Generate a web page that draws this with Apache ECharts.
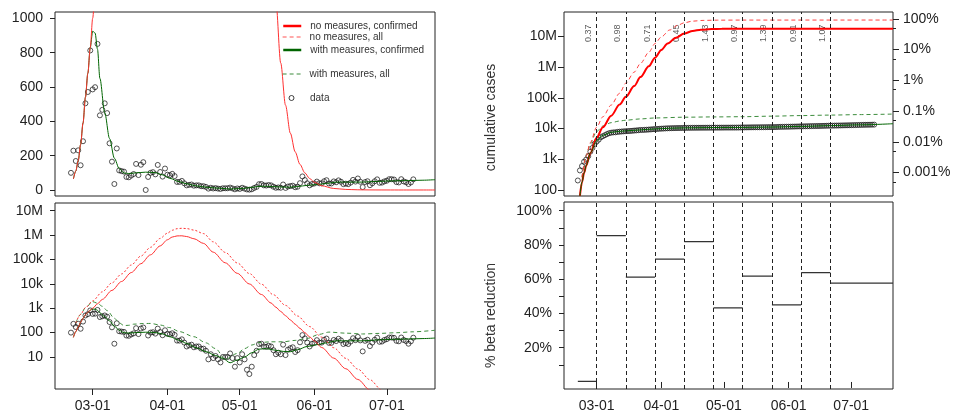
<!DOCTYPE html>
<html>
<head>
<meta charset="utf-8">
<script src="https://cdn.jsdelivr.net/npm/echarts@6.0.0/dist/echarts.min.js"></script>
<style>
html, body { margin: 0; padding: 0; background: #fff; }
#chart { width: 953px; height: 419px; }
</style>
</head>
<body>
<div id="chart"></div>
<script>
// ---- data ----
var dailyStart = [2020, 2, 21];
// daily new confirmed cases from Feb 21
var dailyCases = [
    100, 229, 169, 231, 144, 284, 505, 571, 813,
    586, 599, 851, 435, 467, 505, 448, 272, 165, 35, 242, 114, 110, 107, 76, 74, 84, 93, 152, 87, 147, 162, 0, 76, 100, 104, 91, 146, 105, 78, 125,
    89, 86, 94, 81, 47, 47, 53, 39, 27, 30, 32, 25, 27, 27, 22, 22, 18, 8, 13, 9, 11, 8, 6, 10, 10, 10, 14, 9, 4, 9,
    6, 13, 8, 3, 2, 4, 12, 18, 34, 35, 27, 26, 29, 27, 19, 13, 15, 13, 32, 12, 20, 23, 25, 16, 19, 40, 79, 58, 39, 27, 35,
    38, 49, 39, 39, 51, 57, 38, 38, 50, 45, 56, 48, 34, 37, 34, 43, 59, 49, 67, 48, 17, 46, 51, 28, 39, 51, 62, 42, 43, 50,
    54, 63, 63, 61, 46, 44, 63, 50, 45, 35, 44, 62
];
var casesBefore = 104;

// model, daily new cases
var noMeasConfirmed = [
    ['2020-02-22', 64], ['2020-02-23', 110], ['2020-02-24', 170], ['2020-02-25', 265], ['2020-02-26', 390],
    ['2020-02-27', 540], ['2020-02-28', 680], ['2020-02-29', 830], ['2020-03-01', 1000], ['2020-03-03', 1520],
    ['2020-03-05', 2300], ['2020-03-09', 5400], ['2020-03-13', 12500], ['2020-03-17', 29000], ['2020-03-21', 67000],
    ['2020-03-25', 155000], ['2020-03-29', 360000], ['2020-04-01', 640000], ['2020-04-03', 830000], ['2020-04-05', 925000],
    ['2020-04-07', 935000], ['2020-04-09', 870000], ['2020-04-12', 710000], ['2020-04-16', 455000], ['2020-04-20', 200000],
    ['2020-04-25', 73000], ['2020-04-30', 27000], ['2020-05-05', 9900], ['2020-05-10', 3660], ['2020-05-14', 1640],
    ['2020-05-16', 1100], ['2020-05-18', 740], ['2020-05-20', 494], ['2020-05-22', 331], ['2020-05-24', 222],
    ['2020-05-26', 149], ['2020-05-28', 100], ['2020-05-30', 67], ['2020-06-01', 45], ['2020-06-04', 24.5],
    ['2020-06-09', 9.0], ['2020-06-14', 3.3], ['2020-06-19', 1.2], ['2020-06-24', 0.44], ['2020-06-29', 0.16],
    ['2020-07-06', 0.04], ['2020-07-21', 0.002]
];
var noMeasAll = [
    ['2020-02-23', 250], ['2020-02-25', 560], ['2020-02-27', 1050], ['2020-03-01', 2000], ['2020-03-05', 4700],
    ['2020-03-09', 11000], ['2020-03-13', 25500], ['2020-03-17', 59000], ['2020-03-21', 138000], ['2020-03-25', 315000],
    ['2020-03-29', 730000], ['2020-04-01', 1200000], ['2020-04-03', 1580000], ['2020-04-05', 1830000], ['2020-04-07', 1900000],
    ['2020-04-09', 1850000], ['2020-04-12', 1600000], ['2020-04-16', 1150000], ['2020-04-20', 530000], ['2020-04-25', 195000],
    ['2020-04-30', 72000], ['2020-05-05', 26500], ['2020-05-10', 9700], ['2020-05-15', 3560], ['2020-05-20', 1310],
    ['2020-05-25', 480], ['2020-05-30', 177], ['2020-06-04', 65], ['2020-06-09', 24], ['2020-06-14', 8.8],
    ['2020-06-19', 3.2], ['2020-06-24', 1.17], ['2020-06-29', 0.43], ['2020-07-04', 0.16], ['2020-07-21', 0.005]
];
var withMeasConfirmed = [
    ['2020-02-22', 64], ['2020-02-23', 110], ['2020-02-24', 170], ['2020-02-25', 265], ['2020-02-26', 390],
    ['2020-02-27', 540], ['2020-02-28', 680], ['2020-02-29', 830], ['2020-03-01', 925], ['2020-03-02', 915],
    ['2020-03-03', 820], ['2020-03-04', 650], ['2020-03-06', 450], ['2020-03-08', 300], ['2020-03-10', 185],
    ['2020-03-12', 125], ['2020-03-14', 99], ['2020-03-16', 96], ['2020-03-19', 100], ['2020-03-23', 104],
    ['2020-03-27', 101], ['2020-03-30', 88], ['2020-04-02', 68], ['2020-04-06', 48], ['2020-04-09', 36],
    ['2020-04-13', 24], ['2020-04-17', 16.5], ['2020-04-21', 11.5], ['2020-04-24', 8.8], ['2020-04-27', 5.8],
    ['2020-04-30', 7.5], ['2020-05-03', 10], ['2020-05-06', 15], ['2020-05-09', 21], ['2020-05-12', 22],
    ['2020-05-15', 19.5], ['2020-05-19', 17], ['2020-05-22', 16.5], ['2020-05-25', 20], ['2020-05-29', 27],
    ['2020-06-02', 32], ['2020-06-06', 38], ['2020-06-10', 46], ['2020-06-15', 46], ['2020-06-21', 46],
    ['2020-06-27', 50], ['2020-07-03', 53], ['2020-07-10', 55], ['2020-07-16', 57], ['2020-07-21', 60]
];
var withMeasAll = [
    ['2020-02-23', 250], ['2020-02-25', 560], ['2020-02-27', 1050], ['2020-03-01', 1860], ['2020-03-03', 1600],
    ['2020-03-05', 1200], ['2020-03-07', 800], ['2020-03-10', 390], ['2020-03-12', 250], ['2020-03-14', 195],
    ['2020-03-16', 200], ['2020-03-18', 222], ['2020-03-22', 236], ['2020-03-25', 238], ['2020-03-29', 205],
    ['2020-04-02', 160], ['2020-04-06', 110], ['2020-04-12', 68], ['2020-04-17', 38], ['2020-04-21', 22],
    ['2020-04-25', 8], ['2020-04-30', 14], ['2020-05-03', 22], ['2020-05-06', 31], ['2020-05-09', 39],
    ['2020-05-14', 42], ['2020-05-19', 42], ['2020-05-24', 48], ['2020-05-29', 58], ['2020-06-03', 85],
    ['2020-06-07', 105], ['2020-06-14', 95], ['2020-06-21', 88], ['2020-06-28', 93], ['2020-07-05', 99],
    ['2020-07-12', 108], ['2020-07-21', 125]
];

// model, cumulative cases
var cumNoMeasConfirmed = [
    ['2020-02-22', 64], ['2020-02-23', 180], ['2020-02-24', 360], ['2020-02-25', 620], ['2020-02-27', 1600],
    ['2020-03-01', 5000], ['2020-03-04', 11000], ['2020-03-08', 26000], ['2020-03-12', 60000], ['2020-03-15', 107000],
    ['2020-03-19', 240000], ['2020-03-22', 470000], ['2020-03-26', 1050000], ['2020-03-29', 2000000], ['2020-04-01', 3600000],
    ['2020-04-04', 5800000], ['2020-04-08', 9000000], ['2020-04-12', 12300000], ['2020-04-16', 14900000],
    ['2020-04-20', 16300000], ['2020-04-25', 17100000], ['2020-04-30', 17450000], ['2020-05-10', 17650000],
    ['2020-07-21', 17700000]
];
var cumNoMeasAll = [
    ['2020-02-23', 260], ['2020-02-25', 1300], ['2020-02-27', 3500], ['2020-03-01', 11000], ['2020-03-04', 24000],
    ['2020-03-08', 58000], ['2020-03-12', 140000], ['2020-03-15', 300000], ['2020-03-19', 680000], ['2020-03-22', 1300000],
    ['2020-03-26', 3000000], ['2020-03-29', 5800000], ['2020-04-01', 9500000], ['2020-04-05', 16000000],
    ['2020-04-09', 23000000], ['2020-04-12', 27500000], ['2020-04-16', 31000000], ['2020-04-21', 32800000],
    ['2020-04-28', 33400000], ['2020-05-10', 33600000], ['2020-07-21', 33700000]
];
var cumWithMeasConfirmed = [
    ['2020-02-22', 64], ['2020-02-23', 180], ['2020-02-24', 360], ['2020-02-25', 620], ['2020-02-27', 1600],
    ['2020-03-01', 4000], ['2020-03-04', 6000], ['2020-03-08', 7500], ['2020-03-12', 8100], ['2020-03-15', 8400],
    ['2020-03-22', 9000], ['2020-03-29', 9700], ['2020-04-05', 10200], ['2020-04-12', 10500], ['2020-04-26', 10750],
    ['2020-05-10', 10850], ['2020-05-24', 11150], ['2020-06-07', 11700], ['2020-06-21', 12400], ['2020-07-05', 13150],
    ['2020-07-21', 14300]
];
var cumWithMeasAll = [
    ['2020-02-23', 260], ['2020-02-25', 1300], ['2020-02-27', 3300], ['2020-03-01', 8000], ['2020-03-04', 12000],
    ['2020-03-08', 15500], ['2020-03-12', 17500], ['2020-03-15', 18600], ['2020-03-22', 20500], ['2020-03-29', 22000],
    ['2020-04-12', 23300], ['2020-04-26', 23800], ['2020-05-10', 24200], ['2020-05-24', 25200], ['2020-06-07', 26300],
    ['2020-06-21', 27300], ['2020-07-05', 28300], ['2020-07-21', 29500]
];

// change points, R values and beta reduction per period
var changeDates = ['2020-03-01', '2020-03-15', '2020-03-29', '2020-04-12', '2020-04-26', '2020-05-10', '2020-05-24', '2020-06-07', '2020-06-21'];
var rLabels = ['0.37', '0.98', '0.71', '0.45', '1.43', '0.97', '1.39', '0.91', '1.07'];
var betaStart = '2020-02-21';
var betaEnd = '2020-07-21';
var betaReduction = [0.3, 85.5, 61.2, 71.7, 82, 43.3, 61.8, 45, 63.9, 57.7];

// ticks
var monthTicks = ['2020-03-01', '2020-04-01', '2020-05-01', '2020-06-01', '2020-07-01'];
var linTicks = [0, 200, 400, 600, 800, 1000];
var logTicks = [10, 100, 1e3, 1e4, 1e5, 1e6, 1e7];
var cumTicks = [100, 1e3, 1e4, 1e5, 1e6, 1e7];
var pctTicks = [0.001, 0.01, 0.1, 1, 10, 100];
var pctMinorTicks = [0.0005, 0.005, 0.05, 0.5, 5, 50];
var betaTicks = [20, 40, 60, 80, 100];
var betaMinorTicks = [10, 20, 30, 40, 50, 60, 70, 80, 90, 100];
var population = 3.7e7;

// ---- helpers ----
function day(s) {
    var p = s.split('-');
    return new Date(+p[0], +p[1] - 1, +p[2]).getTime();
}
function pad(n) { return n < 10 ? '0' + n : '' + n; }
function mmdd(v) {
    var d = new Date(v);
    return pad(d.getMonth() + 1) + '-' + pad(d.getDate());
}
function pairs(arr) {
    return arr.map(function (p) { return [day(p[0]), p[1]]; });
}
var shortNum = { 0: '1', 1: '10', 2: '100', 3: '1k', 4: '10k', 5: '100k', 6: '1M', 7: '10M' };
function logLabel(v) { return shortNum[Math.round(Math.log10(v))]; }
var pctNames = { 2: '100%', 1: '10%', 0: '1%', '-1': '0.1%', '-2': '0.01%', '-3': '0.001%' };
function pctLabel(v) { return pctNames[Math.round(Math.log10(v))]; }

var dates = dailyCases.map(function (v, i) {
    return new Date(dailyStart[0], dailyStart[1] - 1, dailyStart[2] + i).getTime();
});
var dailyPts = dailyCases.map(function (v, i) { return [dates[i], v]; });
var dailyLogPts = dailyCases.map(function (v, i) { return [dates[i], v > 0 ? v : '-']; });
var running = casesBefore;
var cumPts = dailyCases.map(function (v, i) { running += v; return [dates[i], running]; });

// step segments of the beta reduction, broken between periods
var betaPts = [];
var bounds = [betaStart].concat(changeDates, [betaEnd]);
betaReduction.forEach(function (b, i) {
    betaPts.push([day(bounds[i]), b], [day(bounds[i + 1]), b], [day(bounds[i + 1]), '-']);
});

var xMin = new Date(2020, 1, 14, 9).getTime();
var xMax = new Date(2020, 6, 21).getTime();
var cumMin = 63.8, cumMax = 6.15e7;
var txt = '#222';
var font = 'Liberation Sans, Arial, sans-serif';
var red = '#ff0000', green = '#006400';
var noMarker = { color: 'rgba(0,0,0,0)', borderColor: 'rgba(0,0,0,0)', borderWidth: 0 };

// dates as plain millisecond values so the month ticks can be placed exactly
function dateAxis(grid, withLabels) {
    return {
        type: 'value', gridIndex: grid, min: xMin, max: xMax,
        splitLine: { show: false }, axisLine: { show: false },
        axisTick: { show: withLabels, length: 6, lineStyle: { color: txt }, customValues: monthTicks.map(day) },
        axisLabel: {
            show: withLabels, customValues: monthTicks.map(day), formatter: mmdd,
            fontSize: 14, color: txt, fontFamily: font, margin: 10
        }
    };
}
function lineSeries(name, xi, yi, data, color, width, type) {
    return {
        name: name, type: 'line', xAxisIndex: xi, yAxisIndex: yi, data: pairs(data),
        showSymbol: false, symbol: 'none', smooth: 0.3, smoothMonotone: 'x', silent: true,
        lineStyle: { color: color, width: width, type: type || 'solid' }, itemStyle: { color: color }
    };
}
function dataSeries(xi, yi, data) {
    return {
        name: 'data', type: 'scatter', xAxisIndex: xi, yAxisIndex: yi, data: data, symbolSize: 5, silent: true,
        itemStyle: { color: 'rgba(0,0,0,0)', borderColor: '#111', borderWidth: 0.9 }
    };
}
function legendItem(name, top, left, w, h, extra, textPad) {
    return {
        data: [Object.assign({ name: name }, extra)], left: left, top: top, padding: 0,
        itemWidth: w, itemHeight: h, selectedMode: false, orient: 'vertical',
        textStyle: { fontSize: 10, color: '#333', fontFamily: font, padding: [0, 0, 0, textPad] }
    };
}

var myChart = echarts.init(document.getElementById('chart'));
var option = {
    animation: false,
    textStyle: { fontFamily: font },
    grid: [
        { left: 55, top: 12, width: 380, height: 184 },
        { left: 55, top: 203, width: 380, height: 186 },
        { left: 564, top: 12, width: 329, height: 184 },
        { left: 564, top: 202, width: 329, height: 187 }
    ].map(function (g) {
        return Object.assign({ show: true, borderColor: '#222', borderWidth: 1, backgroundColor: 'transparent', outerBoundsMode: 'none' }, g);
    }),
    legend: [
        legendItem('no measures, confirmed', 21, 282, 18, 12, { itemStyle: noMarker, lineStyle: { color: red, width: 2.5, type: 'solid' } }, 4),
        legendItem('no measures, all', 32, 282, 18, 12, { itemStyle: noMarker, lineStyle: { color: '#ff5555', width: 1.2, type: [4, 3] } }, 4),
        legendItem('with measures, confirmed', 45, 282, 18, 12, { itemStyle: noMarker, lineStyle: { color: green, width: 2.5, type: 'solid' } }, 4),
        legendItem('with measures, all', 69, 282, 18, 12, { itemStyle: noMarker, lineStyle: { color: '#3c8c3c', width: 1.2, type: [4, 3] } }, 4),
        legendItem('data', 93, 288.5, 5, 5, { itemStyle: { color: 'rgba(0,0,0,0)', borderColor: '#111', borderWidth: 1 } }, 11)
    ],
    xAxis: [dateAxis(0, false), dateAxis(1, true), dateAxis(2, false), dateAxis(3, true)],
    yAxis: [
        {
            type: 'value', gridIndex: 0, min: -35, max: 1037, splitLine: { show: false }, axisLine: { show: false },
            axisTick: { length: 5, lineStyle: { color: txt }, customValues: linTicks },
            axisLabel: { customValues: linTicks, formatter: function (v) { return String(v); }, fontSize: 14, color: txt, margin: 12 }
        },
        {
            type: 'log', logBase: 10, gridIndex: 1, min: 0.487, max: 2.07e7, splitLine: { show: false }, axisLine: { show: false },
            axisTick: { length: 5, lineStyle: { color: txt }, customValues: logTicks },
            axisLabel: { customValues: logTicks, formatter: logLabel, fontSize: 14, color: txt, margin: 12 }
        },
        {
            type: 'log', logBase: 10, gridIndex: 2, min: cumMin, max: cumMax, splitLine: { show: false }, axisLine: { show: false },
            axisTick: { length: 6, lineStyle: { color: txt }, customValues: cumTicks },
            axisLabel: { customValues: cumTicks, formatter: logLabel, fontSize: 14, color: txt, margin: 7 },
            name: 'cumulative cases', nameLocation: 'middle', nameGap: 66,
            nameTextStyle: { fontSize: 14, color: '#333', padding: [0, 27, 0, 0] }
        },
        {
            type: 'log', logBase: 10, gridIndex: 2, position: 'right', min: cumMin / population * 100, max: cumMax / population * 100,
            splitLine: { show: false }, axisLine: { show: false },
            axisTick: { length: 6, lineStyle: { color: txt }, customValues: pctTicks },
            axisLabel: { customValues: pctTicks, formatter: pctLabel, fontSize: 14, color: txt, margin: 10 }
        },
        {
            type: 'log', logBase: 10, gridIndex: 2, position: 'right', min: cumMin / population * 100, max: cumMax / population * 100,
            splitLine: { show: false }, axisLine: { show: false },
            axisTick: { length: 3, lineStyle: { color: txt }, customValues: pctMinorTicks },
            axisLabel: { show: false }
        },
        {
            type: 'value', gridIndex: 3, min: -4.1, max: 105.1, splitLine: { show: false }, axisLine: { show: false },
            axisTick: { length: 5, lineStyle: { color: txt }, customValues: betaMinorTicks },
            axisLabel: { customValues: betaTicks, formatter: '{value}%', fontSize: 14, color: txt, margin: 12 },
            name: '% beta reduction', nameLocation: 'middle', nameGap: 66,
            nameTextStyle: { fontSize: 14, color: '#333', padding: [0, 40, 0, 0] }
        }
    ],
    series: [
        // top left, linear daily
        lineSeries('with measures, confirmed', 0, 0, withMeasConfirmed, green, 1),
        lineSeries('no measures, confirmed', 0, 0, noMeasConfirmed, '#ff3030', 1),
        dataSeries(0, 0, dailyPts),
        // bottom left, log daily
        lineSeries('with measures, all', 1, 1, withMeasAll, '#3c8c3c', 1, [4, 3]),
        lineSeries('with measures, confirmed', 1, 1, withMeasConfirmed, green, 1),
        dataSeries(1, 1, dailyLogPts),
        lineSeries('no measures, all', 1, 1, noMeasAll, '#ff3030', 1, [2, 2]),
        lineSeries('no measures, confirmed', 1, 1, noMeasConfirmed, '#ff3030', 1),
        // top right, cumulative
        lineSeries('with measures, all', 2, 2, cumWithMeasAll, '#3c8c3c', 1, [4, 3]),
        lineSeries('no measures, all', 2, 2, cumNoMeasAll, '#ff4040', 1, [4, 3]),
        lineSeries('no measures, confirmed', 2, 2, cumNoMeasConfirmed, red, 2),
        dataSeries(2, 2, cumPts),
        lineSeries('with measures, confirmed', 2, 2, cumWithMeasConfirmed, green, 1),
        {
            name: 'R', type: 'scatter', xAxisIndex: 2, yAxisIndex: 2, silent: true, symbolSize: 1,
            itemStyle: { color: 'rgba(0,0,0,0)' },
            data: changeDates.map(function (d) { return [day(d), 1.25e7]; }),
            label: {
                show: true, position: 'inside', rotate: 90, offset: [0, -8], fontSize: 9, color: '#333',
                formatter: function (p) { return rLabels[p.dataIndex]; }
            },
            markLine: {
                silent: true, symbol: ['none', 'none'], label: { show: false }, animation: false,
                lineStyle: { color: '#222', width: 1, type: [4, 3] },
                data: changeDates.map(function (d) { return { xAxis: day(d) }; })
            }
        },
        // bottom right, beta reduction
        {
            name: 'beta', type: 'line', xAxisIndex: 3, yAxisIndex: 5, data: betaPts, showSymbol: false, symbol: 'none',
            silent: true, connectNulls: false, lineStyle: { color: '#333', width: 1.2 },
            markLine: {
                silent: true, symbol: ['none', 'none'], label: { show: false }, animation: false,
                lineStyle: { color: '#222', width: 1, type: [4, 3] },
                data: changeDates.map(function (d) { return { xAxis: day(d) }; })
            }
        }
    ]
};
myChart.setOption(option);
</script>
</body>
</html>
